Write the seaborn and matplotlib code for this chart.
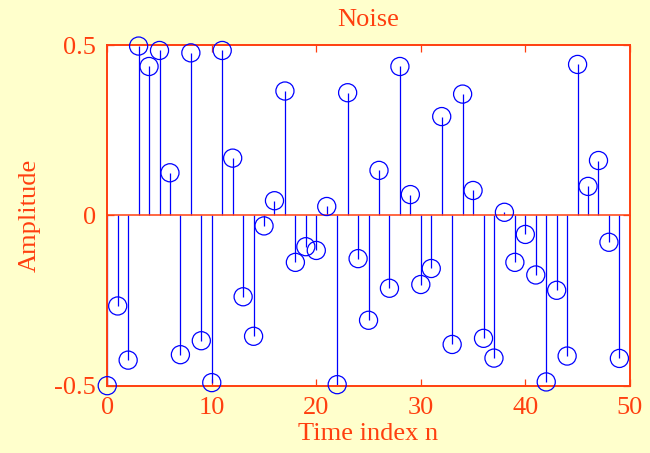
import matplotlib
matplotlib.use("Agg")
import matplotlib.pyplot as plt
import seaborn as sns
import pandas as pd

# Noise sequence x[n], n = 0..49
time_index = list(range(50))
amplitude = [
    -0.500, -0.266, -0.425, 0.497, 0.437, 0.484, 0.125, -0.409, 0.477, -0.368,
    -0.491, 0.484, 0.168, -0.239, -0.355, -0.031, 0.043, 0.365, -0.138, -0.092,
    -0.103, 0.026, -0.497, 0.360, -0.127, -0.308, 0.132, -0.214, 0.437, 0.061,
    -0.203, -0.156, 0.290, -0.379, 0.356, 0.073, -0.361, -0.419, 0.009, -0.138,
    -0.056, -0.175, -0.489, -0.220, -0.413, 0.443, 0.085, 0.161, -0.079, -0.420,
]
x_ticks = [0, 10, 20, 30, 40, 50]
y_ticks = [-0.5, 0, 0.5]
y_tick_labels = ["-0.5", "0", "0.5"]

title_text = "Noise"
x_label = "Time index n"
y_label = "Amplitude"

df = pd.DataFrame({"n": time_index, "x": amplitude})

RED = "#ff3f0f"
BLUE = "#0000ff"
BG = "#ffffcc"
FS = 19

sns.set_style("white")
plt.rcParams["font.family"] = ["Liberation Serif", "DejaVu Serif"]

fig = plt.figure(figsize=(6.5, 4.53), dpi=100, facecolor=BG)
ax = fig.add_axes([0.165, 0.1486, 0.804, 0.752])
ax.set_facecolor("white")

# stems
ax.vlines(df["n"], 0, df["x"], colors=BLUE, linewidth=0.9, zorder=2)
# baseline
ax.axhline(0, color=RED, linewidth=1.1, zorder=3)
# open circle heads
sns.scatterplot(data=df, x="n", y="x", ax=ax, marker="o", s=170,
                facecolor="none", edgecolor=BLUE, linewidth=0.9,
                zorder=4, clip_on=False, legend=False)

ax.set_xlim(0, 50)
ax.set_ylim(-0.5, 0.5)
ax.set_xticks(x_ticks)
ax.set_yticks(y_ticks)
ax.set_yticklabels(y_tick_labels)

for side in ["left", "right", "top", "bottom"]:
    ax.spines[side].set_visible(True)
    ax.spines[side].set_color(RED)
    ax.spines[side].set_linewidth(1.4)

ax.tick_params(axis="both", direction="in", length=5, width=0.9, color=RED,
               labelcolor=RED, labelsize=FS, top=True, right=True,
               bottom=True, left=True)
ax.tick_params(axis="x", pad=8)
ax.tick_params(axis="y", pad=8)

ax.set_title(title_text, color=RED, fontsize=FS, pad=14)
ax.set_xlabel(x_label, color=RED, fontsize=FS, labelpad=3)
ax.set_ylabel(y_label, color=RED, fontsize=FS, labelpad=10)

fig.savefig("out.png", dpi=100, facecolor=BG)
